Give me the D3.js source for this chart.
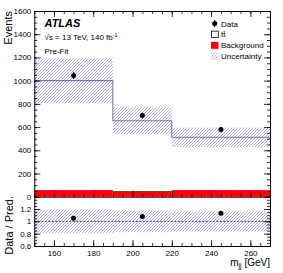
<!DOCTYPE html>
<html>
<head>
<meta charset="utf-8">
<script src="https://cdn.jsdelivr.net/npm/d3@7"></script>
<style>
  body { margin: 0; background: #fff; }
  svg { display: block; font-family: "Liberation Sans", Arial, sans-serif; }
</style>
</head>
<body>
<div id="chart"></div>
<script>
// bins and values
const binEdges = [150, 190, 220, 270];
const dataX = [170, 205, 245];
const dataY = [1045, 700, 578];
const dataErr = [30, 25, 23];
const predTotal = [1000, 655, 512];
const uncUp = [1190, 770, 595];
const uncDown = [810, 540, 428];
const background = [57, 49, 57];
const ratioY = [1.05, 1.08, 1.13];
const mainTicks = [0, 200, 400, 600, 800, 1000, 1200, 1400, 1600];
const ratioTicks = [0.6, 0.8, 1, 1.2];
const xTicks = [160, 180, 200, 220, 240, 260];

const W = 283, H = 273;
const left = 34.3, right = 270;
const mainTop = 11, mainBot = 196.7, ratioBot = 246;

const svg = d3.select("#chart").append("svg")
    .attr("width", W).attr("height", H);

// hatch pattern for uncertainty
const defs = svg.append("defs");
const pat = defs.append("pattern")
    .attr("id", "hatch")
    .attr("patternUnits", "userSpaceOnUse")
    .attr("width", 3).attr("height", 3);
pat.append("path")
    .attr("d", "M0,3 L3,0 M-1,1 L1,-1 M2,4 L4,2")
    .attr("stroke", "#5d5df0")
    .attr("stroke-opacity", 0.75)
    .attr("stroke-width", 0.7);

const x = d3.scaleLinear().domain([150, 270]).range([left, right]);
const y = d3.scaleLinear().domain([0, 1600]).range([mainBot, mainTop]);
const yr = d3.scaleLinear().domain([0.6, 1.4]).range([ratioBot, mainBot]);

const bins = d3.range(predTotal.length).map(i => ({
    x0: binEdges[i], x1: binEdges[i + 1],
    pred: predTotal[i], up: uncUp[i], down: uncDown[i], bkg: background[i]
}));

// --- main panel ---
const main = svg.append("g");

// background (red)
main.selectAll("rect.bkg").data(bins).join("rect")
    .attr("class", "bkg")
    .attr("x", d => x(d.x0))
    .attr("width", d => x(d.x1) - x(d.x0))
    .attr("y", d => y(d.bkg))
    .attr("height", d => y(0) - y(d.bkg))
    .attr("fill", "#ff0000");

// ttbar + bkg step line
const stepPts = [];
bins.forEach(d => { stepPts.push([d.x0, d.pred]); stepPts.push([d.x1, d.pred]); });
main.append("path")
    .datum(stepPts)
    .attr("fill", "none")
    .attr("stroke", "#7c7c9c")
    .attr("stroke-width", 1.1)
    .attr("d", d3.line().x(d => x(d[0])).y(d => y(d[1])));

// uncertainty band
main.selectAll("rect.unc").data(bins).join("rect")
    .attr("class", "unc")
    .attr("x", d => x(d.x0))
    .attr("width", d => x(d.x1) - x(d.x0))
    .attr("y", d => y(d.up))
    .attr("height", d => y(d.down) - y(d.up))
    .attr("fill", "url(#hatch)");

// data points
const pts = dataX.map((v, i) => ({ x: v, y: dataY[i], e: dataErr[i] }));
main.selectAll("line.err").data(pts).join("line")
    .attr("x1", d => x(d.x)).attr("x2", d => x(d.x))
    .attr("y1", d => y(d.y - d.e)).attr("y2", d => y(d.y + d.e))
    .attr("stroke", "#000").attr("stroke-width", 1);
main.selectAll("circle.pt").data(pts).join("circle")
    .attr("cx", d => x(d.x)).attr("cy", d => y(d.y))
    .attr("r", 2.5).attr("fill", "#000");

// --- ratio panel ---
const rat = svg.append("g");
rat.selectAll("rect.runc").data(bins).join("rect")
    .attr("x", d => x(d.x0))
    .attr("width", d => x(d.x1) - x(d.x0))
    .attr("y", d => yr(d.up / d.pred))
    .attr("height", d => yr(d.down / d.pred) - yr(d.up / d.pred))
    .attr("fill", "url(#hatch)");
rat.append("line")
    .attr("x1", x(150)).attr("x2", x(270))
    .attr("y1", yr(1)).attr("y2", yr(1))
    .attr("stroke", "#2a2a55").attr("stroke-width", 0.9)
    .attr("stroke-dasharray", "2,1.5");
rat.selectAll("circle.rpt").data(dataX).join("circle")
    .attr("cx", d => x(d)).attr("cy", (d, i) => yr(ratioY[i]))
    .attr("r", 2.5).attr("fill", "#000");

// --- axes ---
function styleAxis(g) {
    g.select(".domain").attr("stroke", "#000").attr("stroke-width", 1);
    g.selectAll(".tick line").attr("stroke", "#000").attr("stroke-width", 0.8);
    g.selectAll("text").attr("font-size", 8).attr("fill", "#000")
        .attr("font-family", "Liberation Sans, Arial, sans-serif");
}
function minor(g) { g.selectAll("text").remove(); g.select(".domain").remove(); }

const minorMain = d3.range(0, 1601, 50);
const minorX = d3.range(150, 271, 5);
const minorR = d3.range(0.6, 1.401, 0.05);

// main left
svg.append("g").attr("transform", `translate(${left},0)`)
    .call(d3.axisLeft(y).tickValues(minorMain).tickSize(-3).tickSizeOuter(0)).call(minor).call(styleAxis);
svg.append("g").attr("transform", `translate(${left},0)`)
    .call(d3.axisLeft(y).tickValues(mainTicks).tickSize(-6).tickSizeOuter(0).tickPadding(3).tickFormat(d3.format("d")))
    .call(styleAxis);
// main right
svg.append("g").attr("transform", `translate(${right},0)`)
    .call(d3.axisRight(y).tickValues(minorMain).tickSize(-3).tickSizeOuter(0)).call(minor).call(styleAxis);
svg.append("g").attr("transform", `translate(${right},0)`)
    .call(d3.axisRight(y).tickValues(mainTicks).tickSize(-6).tickSizeOuter(0).tickFormat(""))
    .call(styleAxis);
// main top
svg.append("g").attr("transform", `translate(0,${mainTop})`)
    .call(d3.axisTop(x).tickValues(minorX).tickSize(-3).tickSizeOuter(0)).call(minor).call(styleAxis);
svg.append("g").attr("transform", `translate(0,${mainTop})`)
    .call(d3.axisTop(x).tickValues(xTicks).tickSize(-6).tickSizeOuter(0).tickFormat(""))
    .call(styleAxis);
// main bottom (ticks pointing up)
svg.append("g").attr("transform", `translate(0,${mainBot})`)
    .call(d3.axisBottom(x).tickValues(minorX).tickSize(-3).tickSizeOuter(0)).call(minor).call(styleAxis);
svg.append("g").attr("transform", `translate(0,${mainBot})`)
    .call(d3.axisBottom(x).tickValues(xTicks).tickSize(-6).tickSizeOuter(0).tickFormat(""))
    .call(styleAxis);

// ratio left
svg.append("g").attr("transform", `translate(${left},0)`)
    .call(d3.axisLeft(yr).tickValues(minorR).tickSize(-3).tickSizeOuter(0)).call(minor).call(styleAxis);
svg.append("g").attr("transform", `translate(${left},0)`)
    .call(d3.axisLeft(yr).tickValues(ratioTicks).tickSize(-6).tickSizeOuter(0).tickPadding(3)
        .tickFormat(d => d === 1 ? "1" : d3.format(".1f")(d)))
    .call(styleAxis);
// ratio right
svg.append("g").attr("transform", `translate(${right},0)`)
    .call(d3.axisRight(yr).tickValues(minorR).tickSize(-3).tickSizeOuter(0)).call(minor).call(styleAxis);
svg.append("g").attr("transform", `translate(${right},0)`)
    .call(d3.axisRight(yr).tickValues(ratioTicks).tickSize(-6).tickSizeOuter(0).tickFormat(""))
    .call(styleAxis);
// ratio bottom
svg.append("g").attr("transform", `translate(0,${ratioBot})`)
    .call(d3.axisBottom(x).tickValues(minorX).tickSize(-3).tickSizeOuter(0)).call(minor).call(styleAxis);
svg.append("g").attr("transform", `translate(0,${ratioBot})`)
    .call(d3.axisBottom(x).tickValues(xTicks).tickSize(-6).tickSizeOuter(0).tickPadding(4))
    .call(styleAxis);

// --- labels ---
svg.append("text")
    .attr("transform", "translate(12,11) rotate(-90)")
    .attr("text-anchor", "end").attr("font-size", 11).text("Events");
svg.append("text")
    .attr("transform", "translate(13,196) rotate(-90)")
    .attr("text-anchor", "end").attr("font-size", 11).text("Data / Pred.");
const xl = svg.append("text")
    .attr("x", right).attr("y", 266)
    .attr("text-anchor", "end").attr("font-size", 10);
xl.append("tspan").text("m");
xl.append("tspan").attr("font-size", 7).attr("dy", 2).text("jj");
xl.append("tspan").attr("dy", -2).text(" [GeV]");

svg.append("text")
    .attr("x", 44.5).attr("y", 26.5)
    .attr("font-size", 11).attr("font-weight", "bold").attr("font-style", "italic")
    .text("ATLAS");
const en = svg.append("text").attr("x", 44.5).attr("y", 40).attr("font-size", 8);
en.append("tspan").text("\u221As = 13 TeV, 140 fb");
en.append("tspan").attr("font-size", 5.5).attr("dy", -3.5).text("-1");
svg.append("text").attr("x", 44.5).attr("y", 53.5).attr("font-size", 8).text("Pre-Fit");

// --- legend ---
const legendItems = ["Data", "t\u0074\u0304", "Background", "Uncertainty"];
const lg = svg.append("g").attr("transform", "translate(211,0)");
const rowY = [23.5, 34.3, 45.3, 56];
lg.selectAll("text").data(legendItems).join("text")
    .attr("x", 10).attr("y", (d, i) => rowY[i] + 3)
    .attr("font-size", 8).text(d => d);
// data marker
lg.append("line").attr("x1", 3.7).attr("x2", 3.7).attr("y1", rowY[0] - 3.5).attr("y2", rowY[0] + 3.5)
    .attr("stroke", "#000");
lg.append("circle").attr("cx", 3.7).attr("cy", rowY[0]).attr("r", 2.5);
// ttbar box
lg.append("rect").attr("x", 0.5).attr("y", rowY[1] - 3.2).attr("width", 6.8).attr("height", 6.4)
    .attr("fill", "#fff").attr("stroke", "#000").attr("stroke-width", 0.8);
// background box
lg.append("rect").attr("x", 0).attr("y", rowY[2] - 3.5).attr("width", 7.5).attr("height", 7)
    .attr("fill", "#ff0000");
// uncertainty box
lg.append("rect").attr("x", 0).attr("y", rowY[3] - 3.5).attr("width", 7.5).attr("height", 7)
    .attr("fill", "url(#hatch)");
</script>
</body>
</html>
